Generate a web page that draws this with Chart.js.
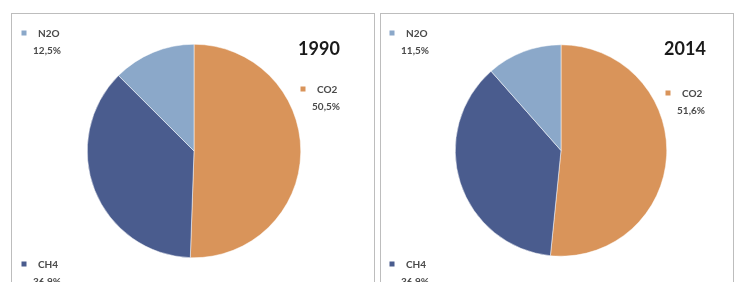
<!DOCTYPE html>
<html>
<head>
<meta charset="utf-8">
<script src="https://cdn.jsdelivr.net/npm/chart.js@4"></script>
<style>
  html, body { margin: 0; padding: 0; background: #fff; overflow: hidden; }
  body { width: 735px; height: 282px; position: relative; }
  .panel { position: absolute; top: 13px; height: 275px; border: 1px solid #bdbdbd; box-sizing: border-box; }
  .panel canvas { position: absolute; left: 0; top: 0; }
</style>
</head>
<body>
<div class="panel" style="left:11px;width:364px"><canvas id="pie1990"></canvas></div>
<div class="panel" style="left:380px;width:354px"><canvas id="pie2014"></canvas></div>
<script>
const categories = ["CO2", "CH4", "N2O"];
const shares1990 = [50.5, 36.9, 12.5];
const shares2014 = [51.6, 36.9, 11.5];
const sliceColors = ['#d9945a', '#4a5c8e', '#8ba8c9'];

// where each data label sits inside its panel (x, y of the marker)
const labelSpots1990 = [[291, 75], [12, 250], [12, 19]];
const labelSpots2014 = [[287, 79], [11, 250], [11, 19]];

function fmt(v) {
    return v.toFixed(1).replace('.', ',') + '%';
}

const cornerLabels = {
    id: 'cornerLabels',
    afterDraw(chart, args, opts) {
        const ctx = chart.ctx;
        const ds = chart.data.datasets[0];
        ctx.save();
        // year title
        ctx.font = 'bold 18px Lato, "Open Sans", sans-serif';
        ctx.fillStyle = '#1a1a1a';
        ctx.textAlign = 'center';
        ctx.textBaseline = 'middle';
        ctx.fillText(opts.title, opts.titleX, 35);

        ctx.font = 'bold 10px Lato, "Open Sans", sans-serif';
        chart.data.labels.forEach((lab, i) => {
            const [x, y] = opts.spots[i];
            ctx.fillStyle = ds.backgroundColor[i];
            ctx.fillRect(x - 2.5, y - 2.5, 5, 5);
            ctx.fillStyle = '#4a4a4a';
            ctx.textAlign = 'left';
            ctx.fillText(lab, x + 14, y + 1);
            ctx.textAlign = 'center';
            ctx.fillText(fmt(ds.data[i]), x + 23, y + 18);
        });
        ctx.restore();
    }
};

function makePie(id, shares, w, pad, title, titleX, spots) {
    const cv = document.getElementById(id);
    cv.width = w; cv.height = 273;
    cv.style.width = w + 'px'; cv.style.height = '273px';
    return new Chart(cv, {
        type: 'pie',
        data: {
            labels: categories,
            datasets: [{
                data: shares,
                backgroundColor: sliceColors,
                borderColor: '#ffffff',
                borderWidth: 0.5
            }]
        },
        options: {
            responsive: false,
            animation: false,
            layout: { padding: pad },
            plugins: {
                legend: { display: false },
                tooltip: { enabled: false },
                cornerLabels: { title: title, titleX: titleX, spots: spots }
            }
        },
        plugins: [cornerLabels]
    });
}

makePie('pie1990', shares1990, 362, { left: 75, right: 73, top: 30, bottom: 29 }, '1990', 307, labelSpots1990);
makePie('pie2014', shares2014, 352, { left: 74, right: 66, top: 30, bottom: 30 }, '2014', 304, labelSpots2014);
</script>
</body>
</html>
